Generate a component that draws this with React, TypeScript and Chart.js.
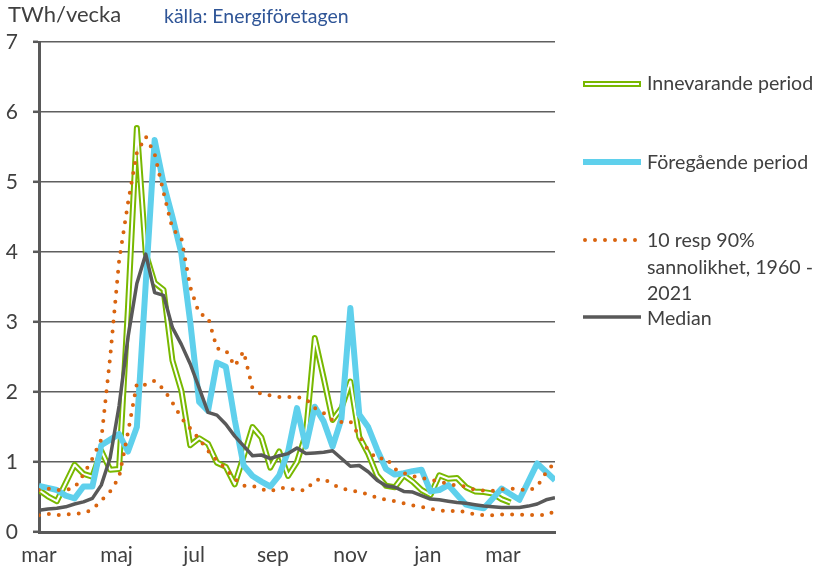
import React, { useEffect, useRef } from 'react';
import { Chart, registerables } from 'chart.js';

Chart.register(...registerables);

// Weekly values (TWh/vecka), week index 0 = start of March
const innevarande = [0.60, 0.51, 0.44, 0.70, 0.96, 0.83, 0.79, 1.16, 0.89, 0.90, 3.20, 5.77, 3.98, 3.56, 3.46, 2.45, 2.02, 1.24, 1.34, 1.26, 0.99, 0.93, 0.68, 1.08, 1.50, 1.35, 0.92, 1.15, 0.80, 1.00, 1.40, 2.77, 2.20, 1.60, 1.77, 2.15, 1.36, 1.12, 0.81, 0.66, 0.64, 0.81, 0.72, 0.60, 0.53, 0.81, 0.76, 0.77, 0.64, 0.58, 0.57, 0.55, 0.47, 0.42];
const foregaende = [0.66, 0.63, 0.60, 0.52, 0.48, 0.65, 0.65, 1.24, 1.32, 1.40, 1.15, 1.50, 3.55, 5.60, 4.98, 4.50, 3.98, 3.00, 1.86, 1.73, 2.42, 2.36, 1.60, 0.95, 0.80, 0.72, 0.65, 0.81, 1.15, 1.77, 1.22, 1.79, 1.58, 1.22, 1.62, 3.20, 1.68, 1.50, 1.18, 0.90, 0.82, 0.84, 0.87, 0.89, 0.58, 0.60, 0.67, 0.53, 0.39, 0.36, 0.34, 0.48, 0.62, 0.54, 0.46, 0.72, 0.98, 0.86, 0.74];
const p90 = [0.60, 0.62, 0.60, 0.60, 0.63, 0.82, 1.05, 1.32, 2.50, 3.87, 4.70, 5.42, 5.65, 5.40, 4.85, 4.33, 4.20, 3.50, 3.12, 3.07, 2.62, 2.60, 2.37, 2.58, 2.05, 1.97, 1.95, 1.93, 1.93, 1.93, 1.90, 1.77, 1.70, 1.60, 1.57, 1.58, 1.37, 1.17, 1.04, 1.06, 0.90, 0.84, 0.80, 0.77, 0.75, 0.72, 0.69, 0.66, 0.65, 0.60, 0.59, 0.59, 0.61, 0.62, 0.61, 0.59, 0.65, 0.85, 1.00];
const p10 = [0.24, 0.26, 0.24, 0.25, 0.26, 0.27, 0.32, 0.45, 0.58, 0.78, 1.42, 2.12, 2.10, 2.16, 2.04, 1.85, 1.63, 1.48, 1.33, 1.16, 1.02, 0.90, 0.76, 0.66, 0.66, 0.61, 0.58, 0.63, 0.63, 0.59, 0.60, 0.74, 0.76, 0.68, 0.62, 0.60, 0.57, 0.54, 0.49, 0.46, 0.44, 0.41, 0.38, 0.36, 0.33, 0.31, 0.29, 0.31, 0.28, 0.25, 0.24, 0.24, 0.25, 0.25, 0.25, 0.24, 0.25, 0.24, 0.30];
const median = [0.31, 0.33, 0.34, 0.36, 0.40, 0.43, 0.48, 0.67, 1.06, 1.80, 2.78, 3.55, 3.97, 3.42, 3.38, 2.92, 2.68, 2.40, 2.06, 1.71, 1.67, 1.54, 1.37, 1.23, 1.09, 1.10, 1.05, 1.09, 1.12, 1.20, 1.12, 1.13, 1.14, 1.16, 1.05, 0.94, 0.95, 0.86, 0.74, 0.66, 0.64, 0.58, 0.57, 0.52, 0.47, 0.46, 0.44, 0.42, 0.41, 0.39, 0.37, 0.36, 0.35, 0.35, 0.35, 0.37, 0.40, 0.46, 0.49];

const monthLabels = ['mar', 'maj', 'jul', 'sep', 'nov', 'jan', 'mar'];
const monthStartDay = [0, 61, 122, 184, 245, 306, 365];
const weekCount = 58;

const FONT = 'Lato, "Open Sans", sans-serif';
const TEXT = '#404040';
const AXIS = '#595959';
const GREEN = '#78B800';
const BLUE = '#5FD0EC';
const ORANGE = '#D9640F';
const GRAY = '#595959';

const pts = (arr: number[]) => arr.map((v, i) => ({ x: i, y: v }));

const overlay = {
  id: 'overlay',
  afterDraw(chart: any) {
    const ctx = chart.ctx as CanvasRenderingContext2D;
    ctx.save();
    ctx.textBaseline = 'middle';
    ctx.textAlign = 'left';
    ctx.fillStyle = TEXT;
    ctx.font = `22px ${FONT}`;
    ctx.fillText('TWh/vecka', 8, 15);
    ctx.fillStyle = '#2F5597';
    ctx.font = `19.5px ${FONT}`;
    ctx.fillText('källa: Energiföretagen', 164, 17);

    const line = (y: number, color: string, w: number, dash: number[] = [], x0 = 583, x1 = 641) => {
      ctx.beginPath();
      ctx.setLineDash(dash);
      ctx.lineCap = dash.length ? 'round' : 'butt';
      ctx.strokeStyle = color;
      ctx.lineWidth = w;
      ctx.moveTo(x0, y);
      ctx.lineTo(x1, y);
      ctx.stroke();
    };
    line(84, GREEN, 6);
    line(84, '#ffffff', 2, [], 585, 639);
    line(162, BLUE, 6);
    line(240, ORANGE, 4, [0, 10], 585, 637);
    line(317, GRAY, 3.5);
    ctx.setLineDash([]);
    ctx.fillStyle = TEXT;
    ctx.font = `19.6px ${FONT}`;
    ctx.fillText('Innevarande period', 647, 84);
    ctx.fillText('Föregående period', 647, 163);
    ctx.fillText('10 resp 90%', 647, 241);
    ctx.fillText('sannolikhet, 1960 -', 647, 268);
    ctx.fillText('2021', 647, 294);
    ctx.fillText('Median', 647, 319);
    ctx.restore();
  },
};

export default function App() {
  const ref = useRef<HTMLCanvasElement>(null);
  useEffect(() => {
    if (!ref.current) return;
    const common = { pointRadius: 0, pointHoverRadius: 0, tension: 0, fill: false, borderJoinStyle: 'round' as const };
    const chart = new Chart(ref.current, {
      type: 'line',
      data: {
        datasets: [
          { ...common, label: 'Innevarande period', data: pts(innevarande), borderColor: GREEN, borderWidth: 6, order: 6 },
          { ...common, label: 'Innevarande inner', data: pts(innevarande), borderColor: '#ffffff', borderWidth: 2, order: 5 },
          { ...common, label: 'Föregående period', data: pts(foregaende), borderColor: BLUE, borderWidth: 6, order: 4 },
          { ...common, label: '90%', data: pts(p90), borderColor: ORANGE, borderWidth: 4, borderDash: [0, 10], borderCapStyle: 'round', order: 3 },
          { ...common, label: '10%', data: pts(p10), borderColor: ORANGE, borderWidth: 4, borderDash: [0, 10], borderCapStyle: 'round', order: 3 },
          { ...common, label: 'Median', data: pts(median), borderColor: GRAY, borderWidth: 3.5, order: 1 },
        ],
      },
      options: {
        animation: false,
        responsive: false,
        devicePixelRatio: 1,
        layout: { padding: { top: 42, right: 260, left: 0, bottom: 0 } },
        plugins: { legend: { display: false }, tooltip: { enabled: false } },
        events: [],
        scales: {
          x: {
            type: 'linear',
            min: 0,
            max: weekCount,
            grid: { display: false, drawTicks: false },
            border: { display: true, color: AXIS, width: 3 },
            afterFit: (s: any) => { s.height = 40; },
            afterBuildTicks: (s: any) => { s.ticks = monthStartDay.map((d) => ({ value: d / 7 })); },
            ticks: {
              autoSkip: false,
              maxRotation: 0,
              padding: 11,
              color: TEXT,
              font: { family: FONT, size: 21 },
              callback: (_v: any, i: number) => monthLabels[i],
            },
          },
          y: {
            min: 0,
            max: 7,
            afterFit: (s: any) => { s.width = 39; },
            grid: { color: '#5f5f5f', lineWidth: 1.6, tickLength: 6, tickColor: AXIS, tickWidth: 2.5 },
            border: { display: true, color: AXIS, width: 3 },
            ticks: {
              stepSize: 1,
              padding: 15,
              color: TEXT,
              font: { family: FONT, size: 21 },
            },
          },
        },
      },
      plugins: [overlay],
    });
    return () => chart.destroy();
  }, []);
  return (
    <div style={{ position: 'absolute', left: 0, top: 0, width: 815, height: 572, background: '#fff' }}>
      <canvas ref={ref} width={815} height={572} />
    </div>
  );
}
